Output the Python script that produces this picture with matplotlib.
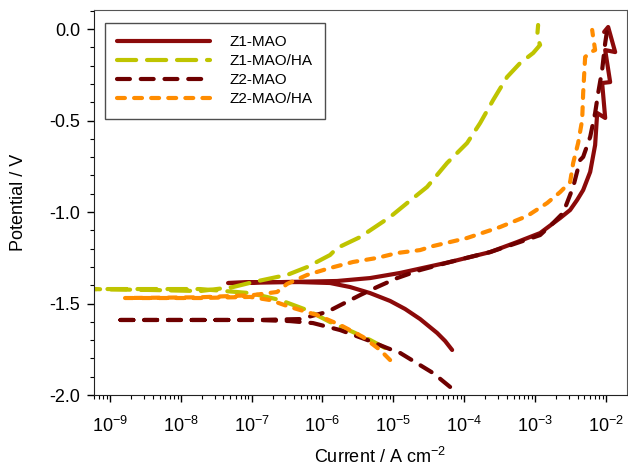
import numpy as np
import matplotlib
matplotlib.use("Agg")
import matplotlib.pyplot as plt
from matplotlib.ticker import LogLocator, MultipleLocator, FixedLocator

plt.rcParams['font.family'] = ['Liberation Sans', 'DejaVu Sans']
plt.rcParams['mathtext.fontset'] = 'custom'
plt.rcParams['mathtext.rm'] = 'Liberation Sans'
plt.rcParams['mathtext.it'] = 'Liberation Sans'
plt.rcParams['mathtext.bf'] = 'Liberation Sans'
plt.rcParams['axes.unicode_minus'] = False

# ---- data: log10(current density, A cm^-2) and potential (V) in scan order ----
z1_mao_logi = [-4.169, -4.268, -4.381, -4.621, -4.833, -5.045, -5.328, -5.610, -5.893, -6.316, -6.881, -7.333,
               -6.599, -5.794, -5.328, -4.904, -4.198, -3.633, -3.251, -2.927, -2.644, -2.503, -2.404,
               -2.319, -2.220, -2.150, -2.121, -2.008, -2.051, -1.938, -2.008, -1.867, -1.966, -2.023]
z1_mao_v = [-1.754, -1.705, -1.661, -1.585, -1.530, -1.486, -1.443, -1.410, -1.388, -1.383, -1.383, -1.388,
            -1.383, -1.377, -1.361, -1.333, -1.273, -1.219, -1.164, -1.115, -1.033, -0.989, -0.934,
            -0.880, -0.781, -0.634, -0.459, -0.486, -0.295, -0.290, -0.115, -0.126, 0.011, -0.016]

z1_ha_logi = [-5.116, -5.328, -5.568, -5.893, -6.218, -6.599, -7.023, -7.729, -8.435, -9.300,
              -8.435, -7.729, -7.263, -6.980, -6.641, -6.500, -6.218, -5.893, -5.794, -5.469,
              -5.045, -4.805, -4.523, -4.240, -3.958, -3.774, -3.590, -3.393, -3.209, -3.025,
              -2.927, -2.969, -2.955]
z1_ha_v = [-1.743, -1.699, -1.656, -1.601, -1.536, -1.481, -1.443, -1.421, -1.421, -1.421,
           -1.426, -1.432, -1.410, -1.383, -1.355, -1.344, -1.301, -1.235, -1.197, -1.137,
           -1.027, -0.951, -0.863, -0.732, -0.623, -0.514, -0.388, -0.262, -0.186, -0.131,
           -0.087, -0.044, 0.022]

z2_mao_logi = [-4.198, -4.438, -4.904, -5.088, -5.370, -5.751, -6.133, -6.458, -6.924, -7.729, -8.435, -8.929,
               -8.435, -7.729, -6.924, -6.316, -5.935, -5.469, -5.229, -4.946, -4.621, -4.198, -3.633,
               -3.251, -2.927, -2.743, -2.602, -2.531, -2.460, -2.362, -2.319, -2.220, -2.150, -2.107,
               -2.051, -2.008, -1.980]
z2_mao_v = [-1.956, -1.880, -1.770, -1.743, -1.699, -1.645, -1.607, -1.596, -1.590, -1.590, -1.590, -1.590,
            -1.590, -1.590, -1.590, -1.585, -1.546, -1.454, -1.410, -1.361, -1.317, -1.273, -1.219,
            -1.169, -1.126, -1.060, -1.005, -0.934, -0.863, -0.716, -0.699, -0.590, -0.459, -0.350,
            -0.224, -0.077, -0.005]

z2_ha_logi = [-5.045, -5.186, -5.427, -5.751, -6.076, -6.458, -6.740, -7.023, -7.729, -8.788,
              -7.729, -6.980, -6.641, -6.500, -6.218, -5.893, -5.568, -5.229, -4.946, -4.621,
              -4.438, -3.958, -3.492, -3.110, -2.828, -2.644, -2.503, -2.460, -2.390, -2.333,
              -2.319, -2.291, -2.220, -2.150, -2.178, -2.192]
z2_ha_v = [-1.809, -1.754, -1.683, -1.617, -1.563, -1.519, -1.481, -1.464, -1.470, -1.470,
           -1.466, -1.454, -1.437, -1.393, -1.344, -1.306, -1.273, -1.251, -1.224, -1.208,
           -1.186, -1.142, -1.082, -1.022, -0.951, -0.891, -0.836, -0.732, -0.623, -0.497,
           -0.350, -0.153, -0.126, -0.115, -0.044, -0.005]

labels = ['Z1-MAO', 'Z1-MAO/HA', 'Z2-MAO', 'Z2-MAO/HA']
colors = ['#8B0A0A', '#BFC400', '#6E0000', '#FF8C00']
x_ticks = [1e-9, 1e-8, 1e-7, 1e-6, 1e-5, 1e-4, 1e-3, 1e-2]
x_ticklabels = ['10$^{-9}$', '10$^{-8}$', '10$^{-7}$', '10$^{-6}$', '10$^{-5}$',
                '10$^{-4}$', '10$^{-3}$', '10$^{-2}$']
y_ticks = [0.0, -0.5, -1.0, -1.5, -2.0]

fig = plt.figure(figsize=(6.28, 4.74), dpi=100)
ax = fig.add_axes([94/628, 1 - 395/474, (627-94)/628, (395-10)/474])

series = [
    (z1_mao_logi, z1_mao_v, '-', None),
    (z1_ha_logi, z1_ha_v, '--', (4.6, 2.6)),
    (z2_mao_logi, z2_mao_v, '--', (3.1, 2.6)),
    (z2_ha_logi, z2_ha_v, '--', (1.9, 2.2)),
]
for (li, v, ls, dash), lab, col in zip(series, labels, colors):
    kw = dict(color=col, lw=3, label=lab, solid_capstyle='round',
              dash_capstyle='round', solid_joinstyle='round', dash_joinstyle='round')
    line, = ax.plot(10 ** np.array(li), v, ls, **kw)
    if dash is not None:
        line.set_dashes(dash)

ax.set_xscale('log')
ax.set_xlim(10 ** -9.226, 10 ** -1.70)
ax.set_ylim(-2.0, 0.104)
ax.xaxis.set_major_locator(FixedLocator(x_ticks))
ax.set_xticklabels(x_ticklabels)
ax.xaxis.set_minor_locator(LogLocator(base=10, subs=np.arange(2, 10)))
ax.yaxis.set_major_locator(FixedLocator(y_ticks))
ax.set_yticklabels([f'{t:.1f}' for t in y_ticks])
ax.yaxis.set_minor_locator(MultipleLocator(0.1))
ax.tick_params(which='major', direction='out', length=5, width=1, labelsize=13, pad=5)
ax.tick_params(which='minor', direction='out', length=3, width=0.8)
ax.tick_params(axis='x', which='major', pad=10)

for s in ['left', 'bottom']:
    ax.spines[s].set_color('#222222')
for s in ['top', 'right']:
    ax.spines[s].set_color('#555555')

ax.set_xlabel('Current / A cm$^{-2}$', fontsize=13)
ax.xaxis.set_label_coords(0.537, -0.135)
ax.set_ylabel('Potential / V', fontsize=13)
ax.yaxis.set_label_coords(-0.125, 0.5)

leg = ax.legend(loc='upper left', bbox_to_anchor=(0.02, 0.966), fontsize=11,
                handlelength=6.1, handletextpad=1.3, labelspacing=0.33,
                borderpad=0.8, frameon=True, fancybox=False, borderaxespad=0)
leg.get_frame().set_edgecolor('#222222')
leg.get_frame().set_linewidth(1)

fig.savefig('out.png', dpi=100)
